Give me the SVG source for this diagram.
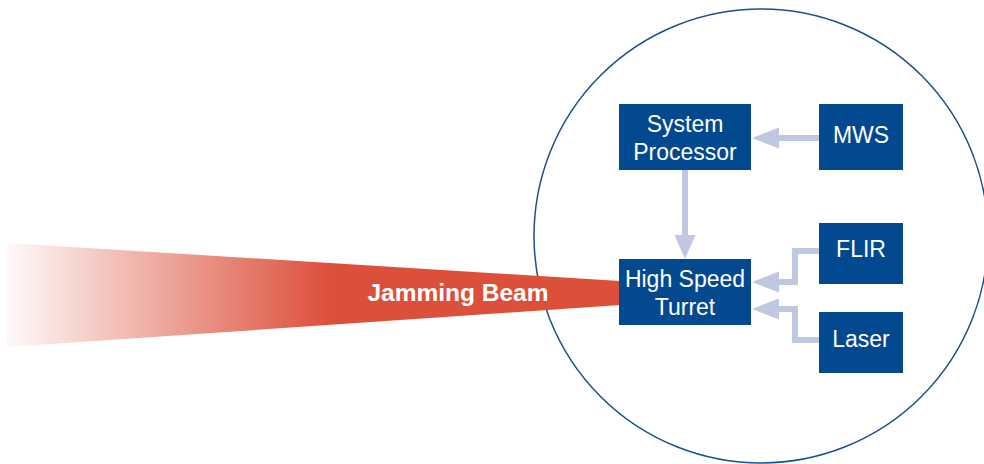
<svg xmlns="http://www.w3.org/2000/svg" width="984" height="464" viewBox="0 0 984 464">
  <style>
    .node rect { fill: #02498f; }
    .node text { fill: #ffffff; font-family: "Liberation Sans", Arial, sans-serif; font-size: 23px; text-anchor: middle; }
    .conn { fill: none; stroke: #c0c7e0; stroke-width: 6; }
    .head { fill: #c0c7e0; }
    .beamtext { fill: #ffffff; font-family: "Liberation Sans", Arial, sans-serif; font-size: 24.5px; font-weight: bold; text-anchor: middle; }
  </style>
  <defs>
    <linearGradient id="beamGrad" gradientUnits="userSpaceOnUse" x1="7" y1="0" x2="330" y2="0">
      <stop offset="0" stop-color="#dc4f3a" stop-opacity="0.03"/>
      <stop offset="1" stop-color="#dc4f3a" stop-opacity="1"/>
    </linearGradient>
  </defs>
  <rect x="0" y="0" width="984" height="464" fill="#ffffff"/>
  <circle cx="761" cy="236" r="227" fill="none" stroke="#1b4f90" stroke-width="1.5"/>
  <g id="beam">
    <polygon points="7,243 620,281 620,305 7,347" fill="url(#beamGrad)"/>
    <text class="beamtext" x="458" y="301">Jamming Beam</text>
  </g>
  <g id="connectors">
    <line class="conn" x1="819" y1="138" x2="776" y2="138"/>
    <polygon class="head" points="752,138 779,127.5 779,148.5"/>
    <line class="conn" x1="685" y1="170" x2="685" y2="236"/>
    <polygon class="head" points="685,259 674.5,235 695.5,235"/>
    <polyline class="conn" points="819,251 795,251 795,282 776,282"/>
    <polygon class="head" points="752,282 779,271.5 779,292.5"/>
    <polyline class="conn" points="819,340 795,340 795,309 776,309"/>
    <polygon class="head" points="752,309 779,298.5 779,319.5"/>
  </g>
  <g id="system-processor" class="node">
    <rect x="619" y="104" width="132" height="66"/>
    <text x="685" y="132">System</text>
    <text x="685" y="160">Processor</text>
  </g>
  <g id="mws" class="node">
    <rect x="819" y="104" width="84" height="66"/>
    <text x="861" y="143">MWS</text>
  </g>
  <g id="flir" class="node">
    <rect x="819" y="223" width="84" height="61"/>
    <text x="861" y="257">FLIR</text>
  </g>
  <g id="laser" class="node">
    <rect x="819" y="312" width="84" height="61"/>
    <text x="861" y="347">Laser</text>
  </g>
  <g id="high-speed-turret" class="node">
    <rect x="619" y="259" width="132" height="66"/>
    <text x="685" y="287">High Speed</text>
    <text x="685" y="315">Turret</text>
  </g>
</svg>
